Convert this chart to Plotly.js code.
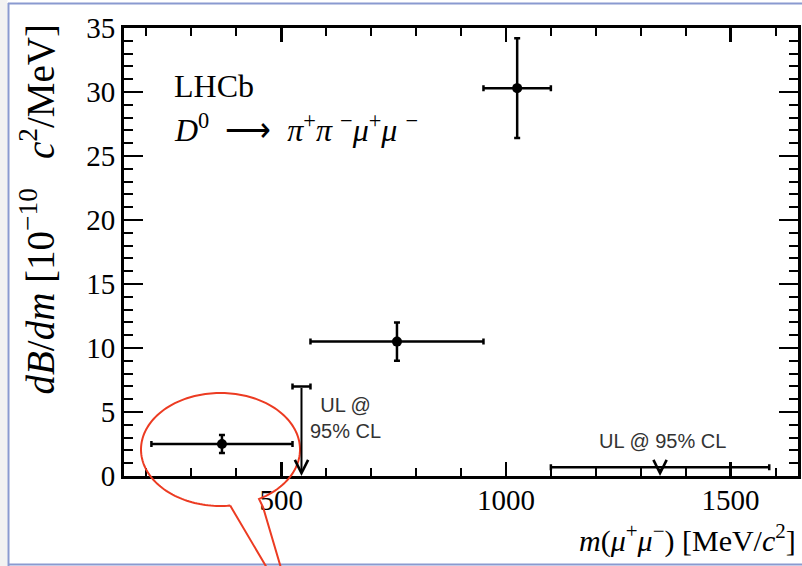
<!DOCTYPE html>
<html><head><meta charset="utf-8">
<script src="https://cdn.plot.ly/plotly-3.0.1.min.js"></script>
<style>html,body{margin:0;padding:0;background:#fff;overflow:hidden;}#chart{width:802px;height:566px;}</style>
</head><body><div id="chart"></div>
<script>
// ---- data ----
const binLow = [211, 565, 950];
const binHigh = [525, 950, 1100];
const dBdm = [2.5, 10.5, 30.3];
const dBdmErr = [0.7, 1.5, 3.9];
const ulLow = [525, 1100];
const ulHigh = [565, 1586];
const ulValue = [7.0, 0.68];
const xTickVals = [500, 1000, 1500];
const yTickVals = [0, 5, 10, 15, 20, 25, 30, 35];

const binCenter = binLow.map((l, i) => (l + binHigh[i]) / 2);
const binHalf = binLow.map((l, i) => (binHigh[i] - l) / 2);
const ulCenter = ulLow.map((l, i) => (l + ulHigh[i]) / 2);
const ulHalf = ulLow.map((l, i) => (ulHigh[i] - l) / 2);

// ---- geometry helpers (pixel -> paper) ----
const W = 802, H = 566, L = 124, T = 28, R = 4, B = 90;
const PW = W - L - R, PH = H - T - B;
const px = x => (x - L) / PW;
const py = y => (T + PH - y) / PH;

const serif = 'Liberation Serif, Times New Roman, serif';
const sans = 'Liberation Sans, Arial, sans-serif';
const sp = '\u00a0';

const traces = [
  {
    type: 'scatter', mode: 'markers', x: binCenter, y: dBdm,
    marker: {color: 'black', size: 10},
    error_x: {type: 'data', array: binHalf, symmetric: true, color: 'black', thickness: 2.5, width: 3},
    error_y: {type: 'data', array: dBdmErr, symmetric: true, color: 'black', thickness: 2.5, width: 3},
    showlegend: false, hoverinfo: 'skip'
  },
  {
    type: 'scatter', mode: 'markers', x: ulCenter, y: ulValue,
    marker: {color: 'rgba(0,0,0,0)', size: 1},
    error_x: {type: 'data', array: ulHalf, symmetric: true, color: 'black', thickness: 2.5, width: 3},
    showlegend: false, hoverinfo: 'skip'
  }
];

// ellipse callout
let d = '';
for (let a = 83; a <= 421; a += 2) {
  const r = a * Math.PI / 180;
  const X = 220.5 + 79.5 * Math.cos(r), Y = 449.5 + 56.5 * Math.sin(r);
  d += (d ? 'L' : 'M') + px(X).toFixed(5) + ',' + py(Y).toFixed(5);
}
d += 'L' + px(263) + ',' + py(507) + 'L' + px(281) + ',' + py(568);
d += 'M' + px(230.2) + ',' + py(505.6) + 'L' + px(267) + ',' + py(568);

const shapes = [
  {type: 'rect', xref: 'paper', yref: 'paper', x0: px(0), x1: px(7.5), y0: py(0), y1: py(566), fillcolor: '#f2f2f2', line: {width: 0}, layer: 'below'},
  {type: 'line', xref: 'paper', yref: 'paper', x0: px(8.5), x1: px(8.5), y0: py(3), y1: py(566), line: {color: '#8a9ad0', width: 2}},
  {type: 'line', xref: 'paper', yref: 'paper', x0: px(8), x1: px(802), y0: py(3.5), y1: py(3.5), line: {color: '#8a9ad0', width: 2}},
  {type: 'line', xref: 'paper', yref: 'paper', x0: px(8), x1: px(802), y0: py(564.5), y1: py(564.5), line: {color: '#8a9ad0', width: 2}},
  {type: 'path', xref: 'paper', yref: 'paper', path: d, line: {color: '#ec3b22', width: 2}}
];

const annotations = [];
ulCenter.forEach((c, i) => {
  annotations.push({
    x: c, y: 0, ax: c, ay: ulValue[i], xref: 'x', yref: 'y', axref: 'x', ayref: 'y',
    text: '', showarrow: true, arrowhead: 5, arrowsize: 1.3, arrowwidth: 2, arrowcolor: 'black', standoff: 0, startstandoff: 0
  });
});
annotations.push(
  {xref: 'paper', yref: 'paper', x: px(172), y: py(86), xanchor: 'left', yanchor: 'middle', showarrow: false,
   text: 'LHCb', font: {family: serif, size: 32, color: 'black'}},
  {xref: 'paper', yref: 'paper', x: px(172), y: py(128), xanchor: 'left', yanchor: 'middle', showarrow: false,
   text: '<i>D</i><sup>0</sup>' + sp + sp + '⟶' + sp + sp + '<i>π</i><sup>+</sup><i>π</i>' + sp + '<sup>−</sup><i>μ</i><sup>+</sup><i>μ</i>' + sp + '<sup>−</sup>',
   font: {family: serif, size: 32, color: 'black'}},
  {xref: 'paper', yref: 'paper', x: px(345), y: py(418), xanchor: 'center', yanchor: 'middle', showarrow: false,
   text: 'UL @<br>95% CL', align: 'center', font: {family: sans, size: 20, color: '#333'}},
  {xref: 'paper', yref: 'paper', x: px(662), y: py(441), xanchor: 'center', yanchor: 'middle', showarrow: false,
   text: 'UL @ 95% CL', font: {family: sans, size: 20, color: '#333'}},
  {xref: 'paper', yref: 'paper', x: 1, y: py(538), xanchor: 'right', yanchor: 'middle', showarrow: false,
   text: '<i>m</i>(<i>μ</i><sup>+</sup><i>μ</i><sup>−</sup>) [MeV/<i>c</i><sup>2</sup>]',
   font: {family: serif, size: 30, color: 'black'}},
  {xref: 'paper', yref: 'paper', x: px(38), y: py(22), xanchor: 'center', yanchor: 'top', showarrow: false, textangle: -90,
   text: '<i>dB</i>/<i>dm</i>' + sp + '[10<sup>−10</sup>' + sp + sp + sp + '<i>c</i><sup>2</sup>/MeV]',
   font: {family: serif, size: 39, color: 'black'}}
);

const axisCommon = {
  showline: true, linecolor: 'black', linewidth: 3, mirror: 'allticks',
  ticks: 'inside', tickcolor: 'black', tickwidth: 2.5, showgrid: false, zeroline: false,
  tickfont: {family: serif, size: 29, color: 'black'}, automargin: false, fixedrange: true
};

const layout = {
  width: W, height: H,
  margin: {l: L, r: R, t: T, b: B, pad: 0},
  paper_bgcolor: 'white', plot_bgcolor: 'white',
  showlegend: false,
  xaxis: Object.assign({}, axisCommon, {
    range: [150, 1650], tickmode: 'array', tickvals: xTickVals, ticktext: xTickVals.map(String), ticklen: 14,
    ticklabelstandoff: -4,
    minor: {dtick: 100, tick0: 0, ticks: 'inside', ticklen: 8, tickwidth: 2, tickcolor: 'black'}
  }),
  yaxis: Object.assign({}, axisCommon, {
    range: [0, 35], tickmode: 'array', tickvals: yTickVals, ticktext: yTickVals.map(String), ticklen: 19,
    minor: {dtick: 1, tick0: 0, ticks: 'inside', ticklen: 9, tickwidth: 2, tickcolor: 'black'}
  }),
  shapes: shapes,
  annotations: annotations
};

Plotly.newPlot('chart', traces, layout, {staticPlot: true, displayModeBar: false});
</script>
</body></html>
